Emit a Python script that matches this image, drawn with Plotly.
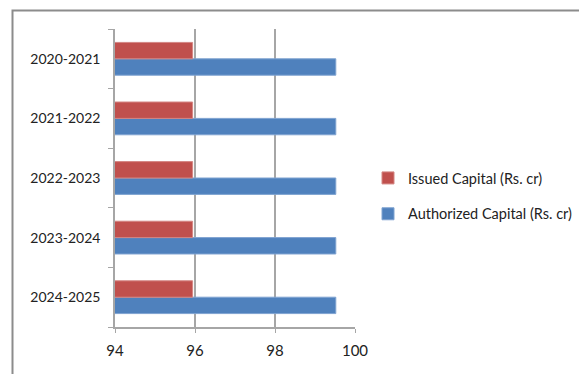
import plotly.graph_objects as go

categories = ["2024-2025", "2023-2024", "2022-2023", "2021-2022", "2020-2021"]
issued = [95.94, 95.94, 95.94, 95.94, 95.94]
authorized = [99.52, 99.52, 99.52, 99.52, 99.52]
x_ticks = [94, 96, 98, 100]

W, H = 579, 374
L, R, T, B = 115, 224, 29, 47
pw, ph = W - L - R, H - T - B

def px(x):
    return (x - L) / pw

def py(y):
    return (H - B - y) / ph

fig = go.Figure()
fig.add_trace(go.Bar(
    y=categories, x=authorized, orientation="h",
    name="Authorized Capital (Rs. cr)", legendgroup="a", legendrank=2,
    marker=dict(color="#4F81BD", line=dict(color="#7FA3D1", width=1)),
))
fig.add_trace(go.Bar(
    y=categories, x=issued, orientation="h",
    name="Issued Capital (Rs. cr)", legendgroup="b", legendrank=1,
    marker=dict(color="#C0504D", line=dict(color="#D48683", width=1)),
))

font_family = "Lato, 'Open Sans', sans-serif"
fig.update_layout(
    width=W, height=H,
    margin=dict(l=L, r=R, t=T, b=B, autoexpand=False),
    paper_bgcolor="white", plot_bgcolor="white",
    barmode="group", bargap=0.45, bargroupgap=0,
    font=dict(family=font_family, size=14, color="#222222"),
    legend=dict(
        xref="container", yref="container",
        x=368 / W, y=1 - 196 / H, xanchor="left", yanchor="middle",
        traceorder="grouped", tracegroupgap=14,
        font=dict(size=14.5, color="#222222"), itemwidth=30,
        bgcolor="rgba(0,0,0,0)",
    ),
    xaxis=dict(
        range=[94, 100], tickvals=x_ticks, ticktext=[str(v) for v in x_ticks],
        showgrid=True, gridcolor="#A6A6A6", gridwidth=1.5,
        showline=True, linecolor="#A6A6A6", linewidth=1.5,
        ticks="outside", ticklen=4, tickcolor="#A6A6A6",
        zeroline=False, tickfont=dict(size=15), ticklabelstandoff=5,
    ),
    yaxis=dict(
        categoryorder="array", categoryarray=categories,
        showline=True, linecolor="#A6A6A6", linewidth=1.5,
        ticks="outside", ticklen=5, tickcolor="#A6A6A6", tickson="boundaries",
        showgrid=False, tickfont=dict(size=14), ticklabelstandoff=10,
    ),
    shapes=[dict(
        type="path", xref="paper", yref="paper",
        path=f"M {px(12.5)} {py(H+5)} L {px(12.5)} {py(10.5)} L {px(W+5)} {py(10.5)}",
        line=dict(color="#8C8C8C", width=2),
    )],
)

fig.write_html("out.html")
